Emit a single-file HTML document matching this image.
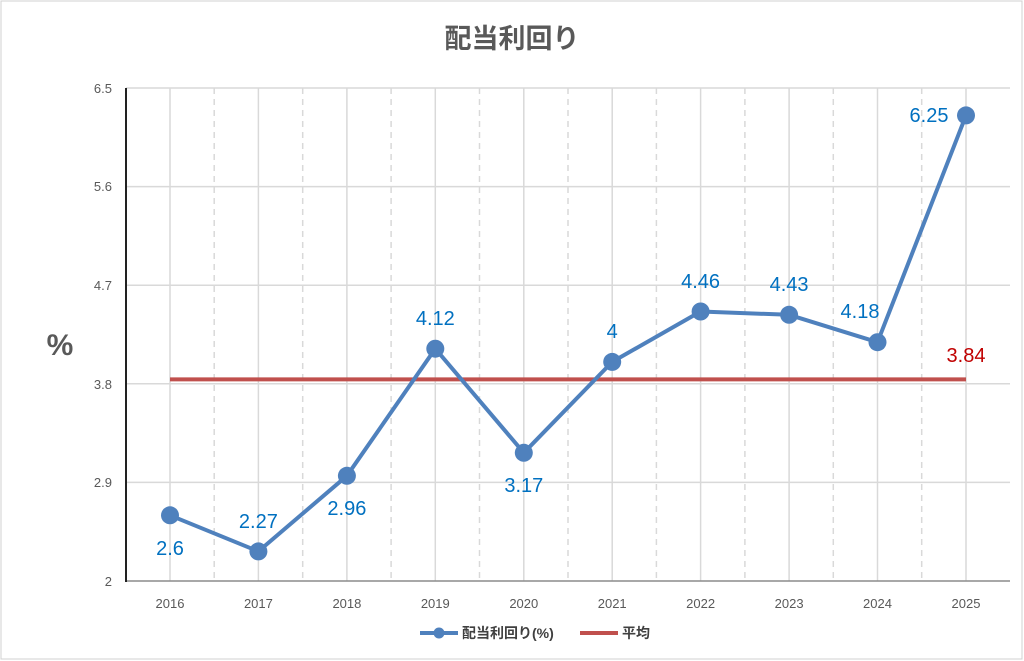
<!DOCTYPE html>
<html><head><meta charset="utf-8"><style>
body{margin:0;background:#fff}
svg{display:block;font-family:"Liberation Sans","Noto Sans CJK JP",sans-serif}
</style></head><body>
<svg width="1024" height="661" viewBox="0 0 1024 661">
<rect x="1" y="1" width="1021" height="658" fill="#fff" stroke="#d0d0d0"/>
<text x="512" y="48" text-anchor="middle" font-size="27" font-weight="bold" fill="#595959">配当利回り</text>
<g stroke="#d9d9d9" stroke-width="1.5">
<line x1="126" x2="1010" y1="88" y2="88"/><line x1="126" x2="1010" y1="186.6" y2="186.6"/><line x1="126" x2="1010" y1="285.2" y2="285.2"/><line x1="126" x2="1010" y1="383.8" y2="383.8"/><line x1="126" x2="1010" y1="482.4" y2="482.4"/>
<line x1="170" x2="170" y1="88" y2="581"/><line x1="258.4" x2="258.4" y1="88" y2="581"/><line x1="346.9" x2="346.9" y1="88" y2="581"/><line x1="435.3" x2="435.3" y1="88" y2="581"/><line x1="523.8" x2="523.8" y1="88" y2="581"/><line x1="612.2" x2="612.2" y1="88" y2="581"/><line x1="700.6" x2="700.6" y1="88" y2="581"/><line x1="789.1" x2="789.1" y1="88" y2="581"/><line x1="877.5" x2="877.5" y1="88" y2="581"/><line x1="966" x2="966" y1="88" y2="581"/>
</g>
<g stroke="#d9d9d9" stroke-width="1.5" stroke-dasharray="6,5">
<line x1="214.2" x2="214.2" y1="88" y2="581"/><line x1="302.7" x2="302.7" y1="88" y2="581"/><line x1="391.1" x2="391.1" y1="88" y2="581"/><line x1="479.5" x2="479.5" y1="88" y2="581"/><line x1="568" x2="568" y1="88" y2="581"/><line x1="656.4" x2="656.4" y1="88" y2="581"/><line x1="744.9" x2="744.9" y1="88" y2="581"/><line x1="833.3" x2="833.3" y1="88" y2="581"/><line x1="921.7" x2="921.7" y1="88" y2="581"/>
</g>
<line x1="126" x2="1010" y1="581" y2="581" stroke="#8c8c8c" stroke-width="1.5"/>
<line x1="126" x2="126" y1="88" y2="582" stroke="#222" stroke-width="2"/>
<g font-size="13" fill="#595959" text-anchor="end">
<text x="112" y="93">6.5</text><text x="112" y="191">5.6</text><text x="112" y="290">4.7</text><text x="112" y="389">3.8</text><text x="112" y="487">2.9</text><text x="112" y="586">2</text>
</g>
<text x="60" y="355" text-anchor="middle" font-size="30" font-weight="bold" fill="#595959">%</text>
<g font-size="13" fill="#595959" text-anchor="middle">
<text x="170" y="608">2016</text><text x="258.4" y="608">2017</text><text x="346.9" y="608">2018</text><text x="435.3" y="608">2019</text><text x="523.8" y="608">2020</text><text x="612.2" y="608">2021</text><text x="700.6" y="608">2022</text><text x="789.1" y="608">2023</text><text x="877.5" y="608">2024</text><text x="966" y="608">2025</text>
</g>
<line x1="170" x2="966" y1="379.4" y2="379.4" stroke="#c0504d" stroke-width="4"/>
<polyline fill="none" stroke="#4f81bd" stroke-width="4" stroke-linejoin="round" points="170,515.3 258.4,551.4 346.9,475.8 435.3,348.7 523.8,452.8 612.2,361.9 700.6,311.5 789.1,314.8 877.5,342.2 966,115.4"/>
<g fill="#4f81bd">
<circle cx="170" cy="515.3" r="9"/><circle cx="258.4" cy="551.4" r="9"/><circle cx="346.9" cy="475.8" r="9"/><circle cx="435.3" cy="348.7" r="9"/><circle cx="523.8" cy="452.8" r="9"/><circle cx="612.2" cy="361.9" r="9"/><circle cx="700.6" cy="311.5" r="9"/><circle cx="789.1" cy="314.8" r="9"/><circle cx="877.5" cy="342.2" r="9"/><circle cx="966" cy="115.4" r="9"/>
</g>
<g font-size="20" fill="#0070c0" text-anchor="middle">
<text x="170" y="555">2.6</text><text x="258.4" y="528">2.27</text><text x="346.9" y="515">2.96</text><text x="435.3" y="325">4.12</text><text x="523.8" y="492">3.17</text><text x="612.2" y="338">4</text><text x="700.6" y="288">4.46</text><text x="789.1" y="291">4.43</text><text x="860" y="318">4.18</text><text x="929" y="122">6.25</text>
</g>
<text x="966" y="362" text-anchor="middle" font-size="20" fill="#c00000">3.84</text>
<line x1="420" x2="458" y1="633" y2="633" stroke="#4f81bd" stroke-width="4"/>
<circle cx="439" cy="633" r="5.5" fill="#4f81bd"/>
<text x="462" y="638" font-size="14" font-weight="bold" fill="#404040">配当利回り(%)</text>
<line x1="580" x2="618" y1="633" y2="633" stroke="#c0504d" stroke-width="4"/>
<text x="622" y="638" font-size="14" font-weight="bold" fill="#404040">平均</text>
</svg>
</body></html>
